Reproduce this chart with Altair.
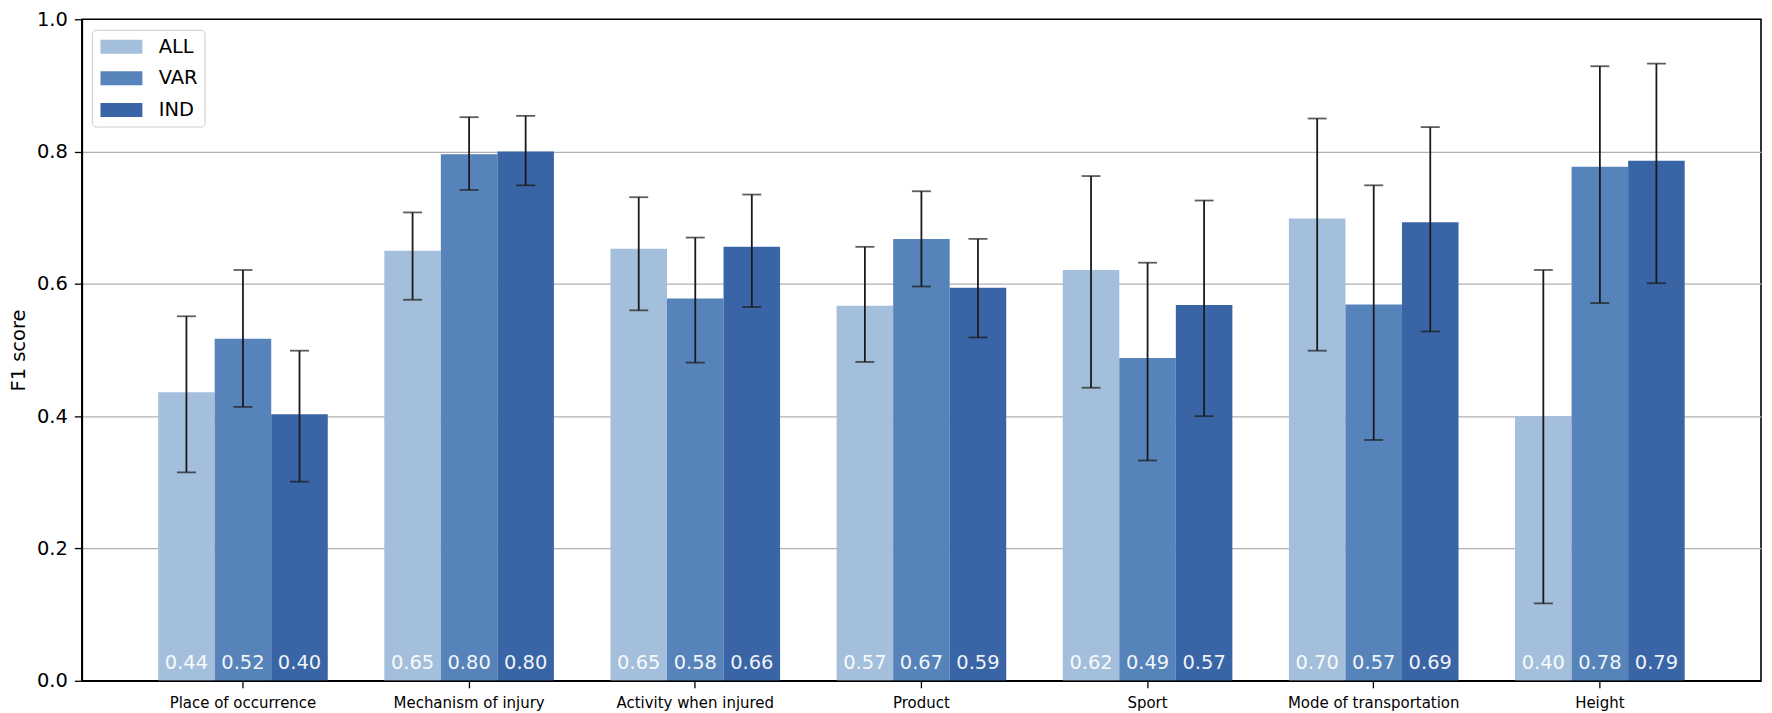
import altair as alt
import pandas as pd

categories = ["Place of occurrence", "Mechanism of injury", "Activity when injured",
              "Product", "Sport", "Mode of transportation", "Height"]
series = ["ALL", "VAR", "IND"]
colors = ["#a4bfdb", "#5683b9", "#3964a5"]

all_vals = [0.436, 0.650, 0.653, 0.567, 0.621, 0.699, 0.400]
var_vals = [0.517, 0.796, 0.578, 0.668, 0.488, 0.569, 0.777]
ind_vals = [0.403, 0.800, 0.656, 0.594, 0.568, 0.693, 0.786]

all_lo = [0.315, 0.576, 0.560, 0.482, 0.443, 0.499, 0.117]
all_hi = [0.551, 0.708, 0.731, 0.656, 0.763, 0.850, 0.621]
var_lo = [0.414, 0.742, 0.481, 0.596, 0.333, 0.364, 0.571]
var_hi = [0.621, 0.852, 0.670, 0.740, 0.632, 0.749, 0.929]
ind_lo = [0.301, 0.749, 0.565, 0.519, 0.400, 0.528, 0.601]
ind_hi = [0.499, 0.854, 0.735, 0.668, 0.726, 0.837, 0.933]

y_ticks = [0.0, 0.2, 0.4, 0.6, 0.8, 1.0]

rows = []
for s, vals, lo, hi in [("ALL", all_vals, all_lo, all_hi),
                        ("VAR", var_vals, var_lo, var_hi),
                        ("IND", ind_vals, ind_lo, ind_hi)]:
    for c, v, l, h in zip(categories, vals, lo, hi):
        rows.append({"category": c, "series": s, "value": v, "lo": l, "hi": h})
df = pd.DataFrame(rows)

FONT = "DejaVu Sans"

x_enc = alt.X("category:N", sort=categories,
              scale=alt.Scale(paddingInner=0.25, paddingOuter=0.3375),
              axis=alt.Axis(title=None, labelAngle=0, labelFontSize=15, labelFont=FONT,
                            labelColor="black", tickColor="black", tickSize=7, tickWidth=1.3,
                            domainColor="black", domainWidth=1.6, labelPadding=7.5,
                            grid=False, zindex=1))
xo_enc = alt.XOffset("series:N", sort=series, scale=alt.Scale(paddingInner=0, paddingOuter=0))
y_scale = alt.Scale(domain=[0, 1], nice=False)

base = alt.Chart(df)

bars = base.mark_bar().encode(
    x=x_enc,
    xOffset=xo_enc,
    y=alt.Y("value:Q", scale=y_scale,
            axis=alt.Axis(title="F1 score", titleFontSize=19.5, titleFont=FONT,
                          titleFontWeight="normal", titleColor="black", titlePadding=8,
                          values=y_ticks, format=".1f", labelFontSize=19.5, labelFont=FONT,
                          labelColor="black", tickColor="black", tickSize=7.5, tickWidth=1.3,
                          labelPadding=7, grid=True, gridColor="#b0b0b0", gridWidth=1.3,
                          gridOpacity=alt.condition("datum.value >= 1 || datum.value <= 0",
                                                    alt.value(0), alt.value(1)),
                          domainColor="black", domainWidth=1.6)),
    color=alt.Color("series:N", sort=series,
                    scale=alt.Scale(domain=series, range=colors),
                    legend=alt.Legend(title=None, orient="none", legendX=10, legendY=10.5,
                                      symbolType="M-0.83,-0.7H3.37V0.7H-0.83Z",
                                      symbolSize=400, symbolStrokeWidth=0, symbolOpacity=1,
                                      labelFont=FONT, labelFontSize=19.5, labelColor="black",
                                      labelOffset=40, rowPadding=11.7, padding=7,
                                      fillColor="rgba(255,255,255,0.8)", strokeColor="#cccccc",
                                      cornerRadius=4)),
)

rules = base.mark_rule(color="#1a1a1a", strokeWidth=1.8).encode(
    x=alt.X("category:N", sort=categories),
    xOffset=alt.XOffset("series:N", sort=series),
    y="lo:Q",
    y2="hi:Q",
)

caps_lo = base.mark_tick(color="#1a1a1a", size=19, thickness=1.8).encode(
    x=alt.X("category:N", sort=categories),
    xOffset=alt.XOffset("series:N", sort=series),
    y="lo:Q",
)
caps_hi = base.mark_tick(color="#1a1a1a", size=19, thickness=1.8).encode(
    x=alt.X("category:N", sort=categories),
    xOffset=alt.XOffset("series:N", sort=series),
    y="hi:Q",
)

labels = base.mark_text(baseline="alphabetic", align="center", fontSize=19.5,
                        color="white", opacity=0.92, font=FONT).encode(
    x=alt.X("category:N", sort=categories),
    xOffset=alt.XOffset("series:N", sort=series),
    y=alt.datum(0.018),
    text=alt.Text("value:Q", format=".2f"),
)

chart = alt.layer(bars, rules, caps_lo, caps_hi, labels).properties(
    width=1683, height=663,
    background="white",
    padding={"left": 74, "top": 10.5, "right": 3, "bottom": 31},
    autosize=alt.AutoSizeParams(type="none"),
).configure_view(stroke="#000000", strokeWidth=1.6)

chart.save("out.html", embed_options={"renderer": "svg", "actions": False})
